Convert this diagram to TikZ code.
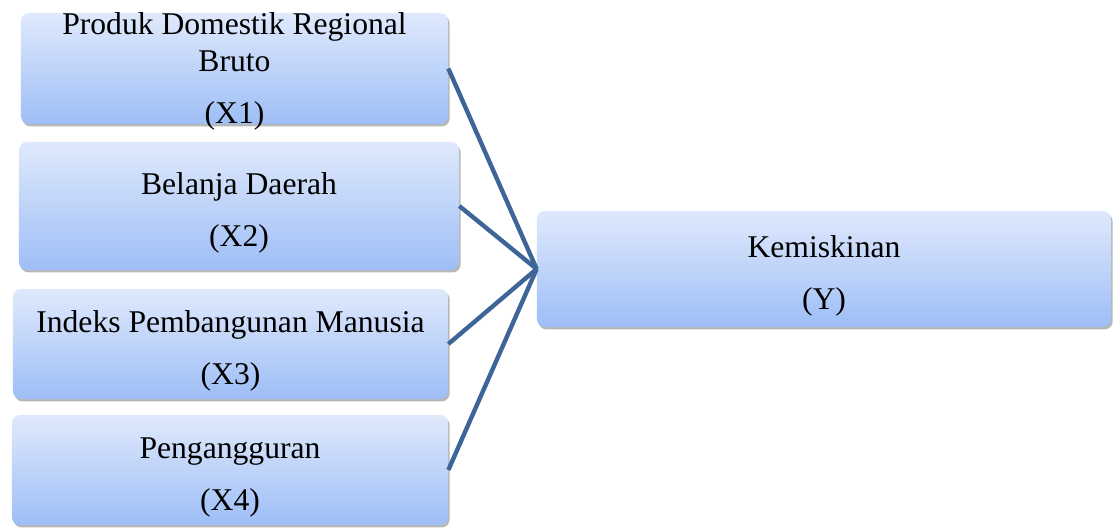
\documentclass[tikz,border=0pt]{standalone}
\usepackage{fontspec}
\setmainfont{Liberation Serif}
\usetikzlibrary{positioning, shadows}
\definecolor{boxtop}{RGB}{223,233,252}
\definecolor{boxbottom}{RGB}{158,190,246}
\definecolor{linkblue}{RGB}{62,101,152}

\begin{document}
\begin{tikzpicture}[
    x=0.025cm, y=-0.025cm,
    box/.style={rectangle, rounded corners=0.2cm, top color=boxtop, bottom color=boxbottom, inner sep=0pt, align=center, text height=2.2cm, text depth=0.2cm, font=\fontsize{22.5}{26.3}\selectfont, drop shadow={shadow xshift=0.04cm, shadow yshift=-0.06cm, opacity=0.4, fill=black!70}},
    link/.style={line width=0.11cm, draw=linkblue}
]
\useasboundingbox (0,0) rectangle (1113,527);

% Independent variables
\node[box, minimum width=10.675cm, minimum height=2.775cm, text height=2.75cm, text depth=0.025cm] (pdrb) at (234.5,68.5) {Produk Domestik Regional\\Bruto\\[0.375cm](X1)};
\node[box, minimum width=11cm, minimum height=3.2cm] (belanja) at (239,206) {Belanja Daerah\\[0.375cm](X2)};
\node[box, minimum width=10.875cm, minimum height=2.75cm] (ipm) at (230.5,344) {Indeks Pembangunan Manusia\\[0.375cm](X3)};
\node[box, minimum width=10.9cm, minimum height=2.75cm] (pengangguran) at (230,470) {Pengangguran\\[0.375cm](X4)};

% Dependent variable
\node[box, minimum width=14.35cm, minimum height=2.9cm] (kemiskinan) at (824,269) {Kemiskinan\\[0.375cm](Y)};

% Links
\foreach \src in {pdrb, belanja, ipm, pengangguran}
  \draw[link] (\src.east) -- (kemiskinan.west);

\end{tikzpicture}
\end{document}
